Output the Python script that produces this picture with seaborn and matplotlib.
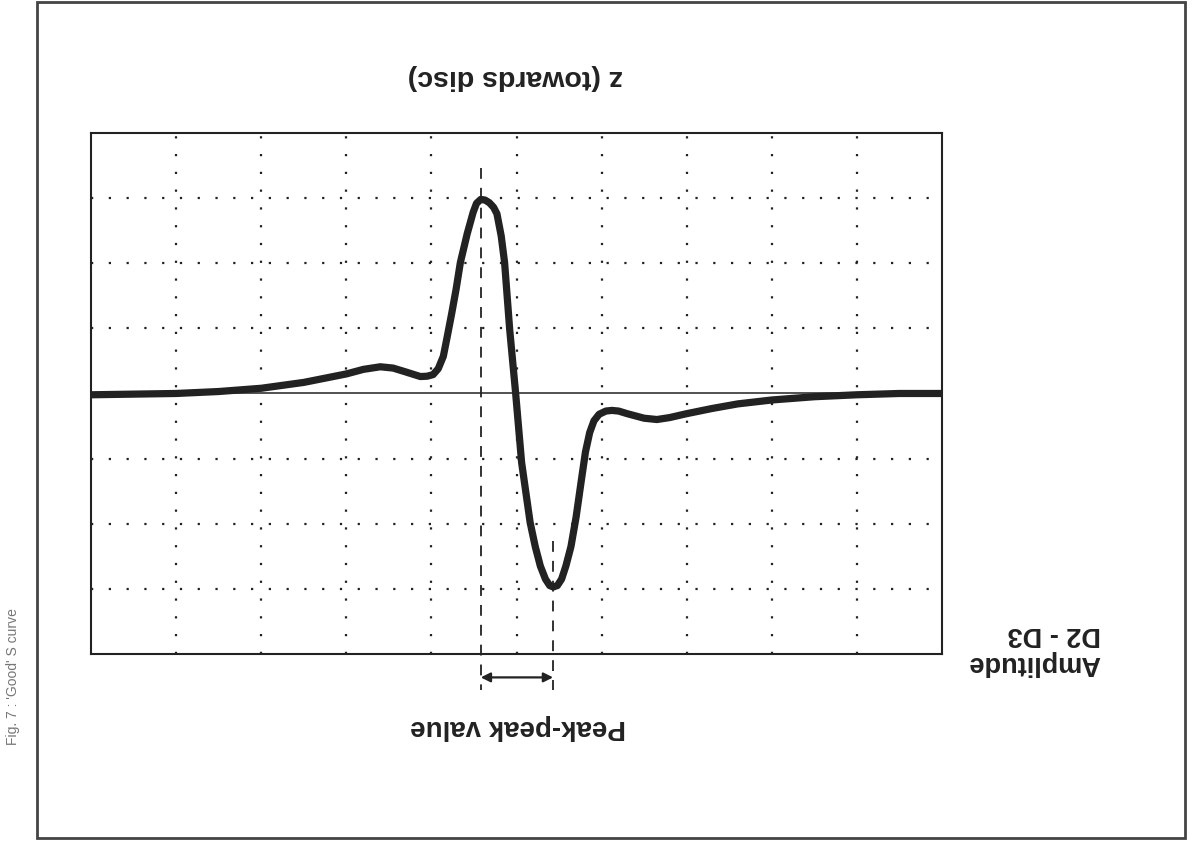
import numpy as np
import pandas as pd
import matplotlib
matplotlib.use("Agg")
import matplotlib.pyplot as plt
from matplotlib.patches import Rectangle
import seaborn as sns

# ── 曲线数据（画面方向，读自扫描图） ───────────────────────────────
z_pos = [0.0, 0.5, 1.0, 1.5, 2.0, 2.5, 3.0, 3.2, 3.4, 3.55, 3.7, 3.87, 3.95,
         4.02, 4.08, 4.14, 4.19, 4.24, 4.29, 4.34, 4.42, 4.49, 4.53, 4.58,
         4.63, 4.68, 4.73, 4.77, 4.82, 4.86, 4.92, 4.99, 5.06, 5.16, 5.22,
         5.28, 5.34, 5.39, 5.43, 5.48, 5.53, 5.58, 5.64, 5.7, 5.76, 5.81,
         5.86, 5.91, 5.97, 6.05, 6.12, 6.2, 6.3, 6.5, 6.65, 6.8, 7.0, 7.3,
         7.6, 8.0, 8.5, 9.0, 9.5, 10.0]
amplitude = [-0.02, -0.01, 0.0, 0.03, 0.08, 0.17, 0.30, 0.37, 0.41, 0.39, 0.33,
             0.26, 0.265, 0.29, 0.38, 0.57, 0.9, 1.24, 1.6, 2.01, 2.45, 2.78,
             2.92, 2.98, 2.97, 2.93, 2.86, 2.76, 2.42, 2.01, 0.98, 0.0, -1.06,
             -1.98, -2.35, -2.65, -2.85, -2.95, -2.97, -2.95, -2.85, -2.65,
             -2.35, -1.9, -1.35, -0.9, -0.6, -0.42, -0.32, -0.27, -0.26, -0.27,
             -0.31, -0.38, -0.40, -0.37, -0.31, -0.23, -0.16, -0.10, -0.05,
             -0.02, 0.0, 0.0]

peak_z = 4.58
trough_z = 5.43
x_grid = [1, 2, 3, 4, 5, 6, 7, 8, 9]
y_grid = [-3, -2, -1, 1, 2, 3]

sns.set_theme(style="white")
plt.rcParams['font.family'] = ['Liberation Sans', 'DejaVu Sans']

fig = plt.figure(figsize=(11.93, 8.46), dpi=100)
ax = fig.add_axes([0.0763, 0.227, 0.7133, 0.6158])

ink = '#222222'

# 网格（点线）
for gx in x_grid:
    ax.axvline(gx, color=ink, linestyle=(0, (1, 7)), linewidth=1.6, zorder=1)
for gy in y_grid:
    ax.axhline(gy, color=ink, linestyle=(0, (1, 7)), linewidth=1.6, zorder=1)
ax.axhline(0, color=ink, linewidth=1.1, zorder=2)

df = pd.DataFrame({'z': z_pos, 'amp': amplitude})
sns.lineplot(data=df, x='z', y='amp', ax=ax, color=ink, linewidth=5.2,
             sort=False, zorder=3)
ax.lines[-1].set_solid_joinstyle('round')
ax.lines[-1].set_solid_capstyle('round')

ax.set_xlim(0, 10)
ax.set_ylim(-4, 4)
ax.set_xticks([])
ax.set_yticks([])
ax.set_xlabel('')
ax.set_ylabel('')
for sp in ax.spines.values():
    sp.set_color(ink)
    sp.set_linewidth(1.5)

# 峰-峰虚线与箭头
ax.plot([peak_z, peak_z], [3.47, -4.55], color=ink, linestyle=(0, (6, 5)),
        linewidth=1.3, clip_on=False, zorder=2)
ax.plot([trough_z, trough_z], [-2.26, -4.55], color=ink, linestyle=(0, (6, 5)),
        linewidth=1.3, clip_on=False, zorder=2)
ax.annotate('', xy=(peak_z, -4.36), xytext=(trough_z, -4.36),
            arrowprops=dict(arrowstyle='<|-|>', color=ink, lw=1.6,
                            mutation_scale=14, shrinkA=0, shrinkB=0),
            annotation_clip=False)

# 文字（整页倒置）
fig.text(0.432, 0.909, 'z (towards disc)', rotation=180, ha='center',
         va='center', fontsize=20.5, fontweight='bold', color=ink)
fig.text(0.434, 0.141, 'Peak-peak value', rotation=180, ha='center',
         va='center', fontsize=20, fontweight='bold', color=ink)
fig.text(0.867, 0.233, 'Amplitude\nD2 - D3', rotation=180, ha='center',
         va='center', multialignment='left', fontsize=19.5,
         fontweight='bold', color=ink, linespacing=1.15)
fig.text(0.011, 0.2, "Fig. 7 : 'Good' S curve", rotation=90, ha='center',
         va='center', fontsize=10, color='#777777')

# 外框
fig.patches.append(Rectangle((0.031, 0.0095), 0.9623, 0.988,
                             transform=fig.transFigure, fill=False,
                             edgecolor='#444444', linewidth=2.0))

fig.savefig('out.png', dpi=100)
